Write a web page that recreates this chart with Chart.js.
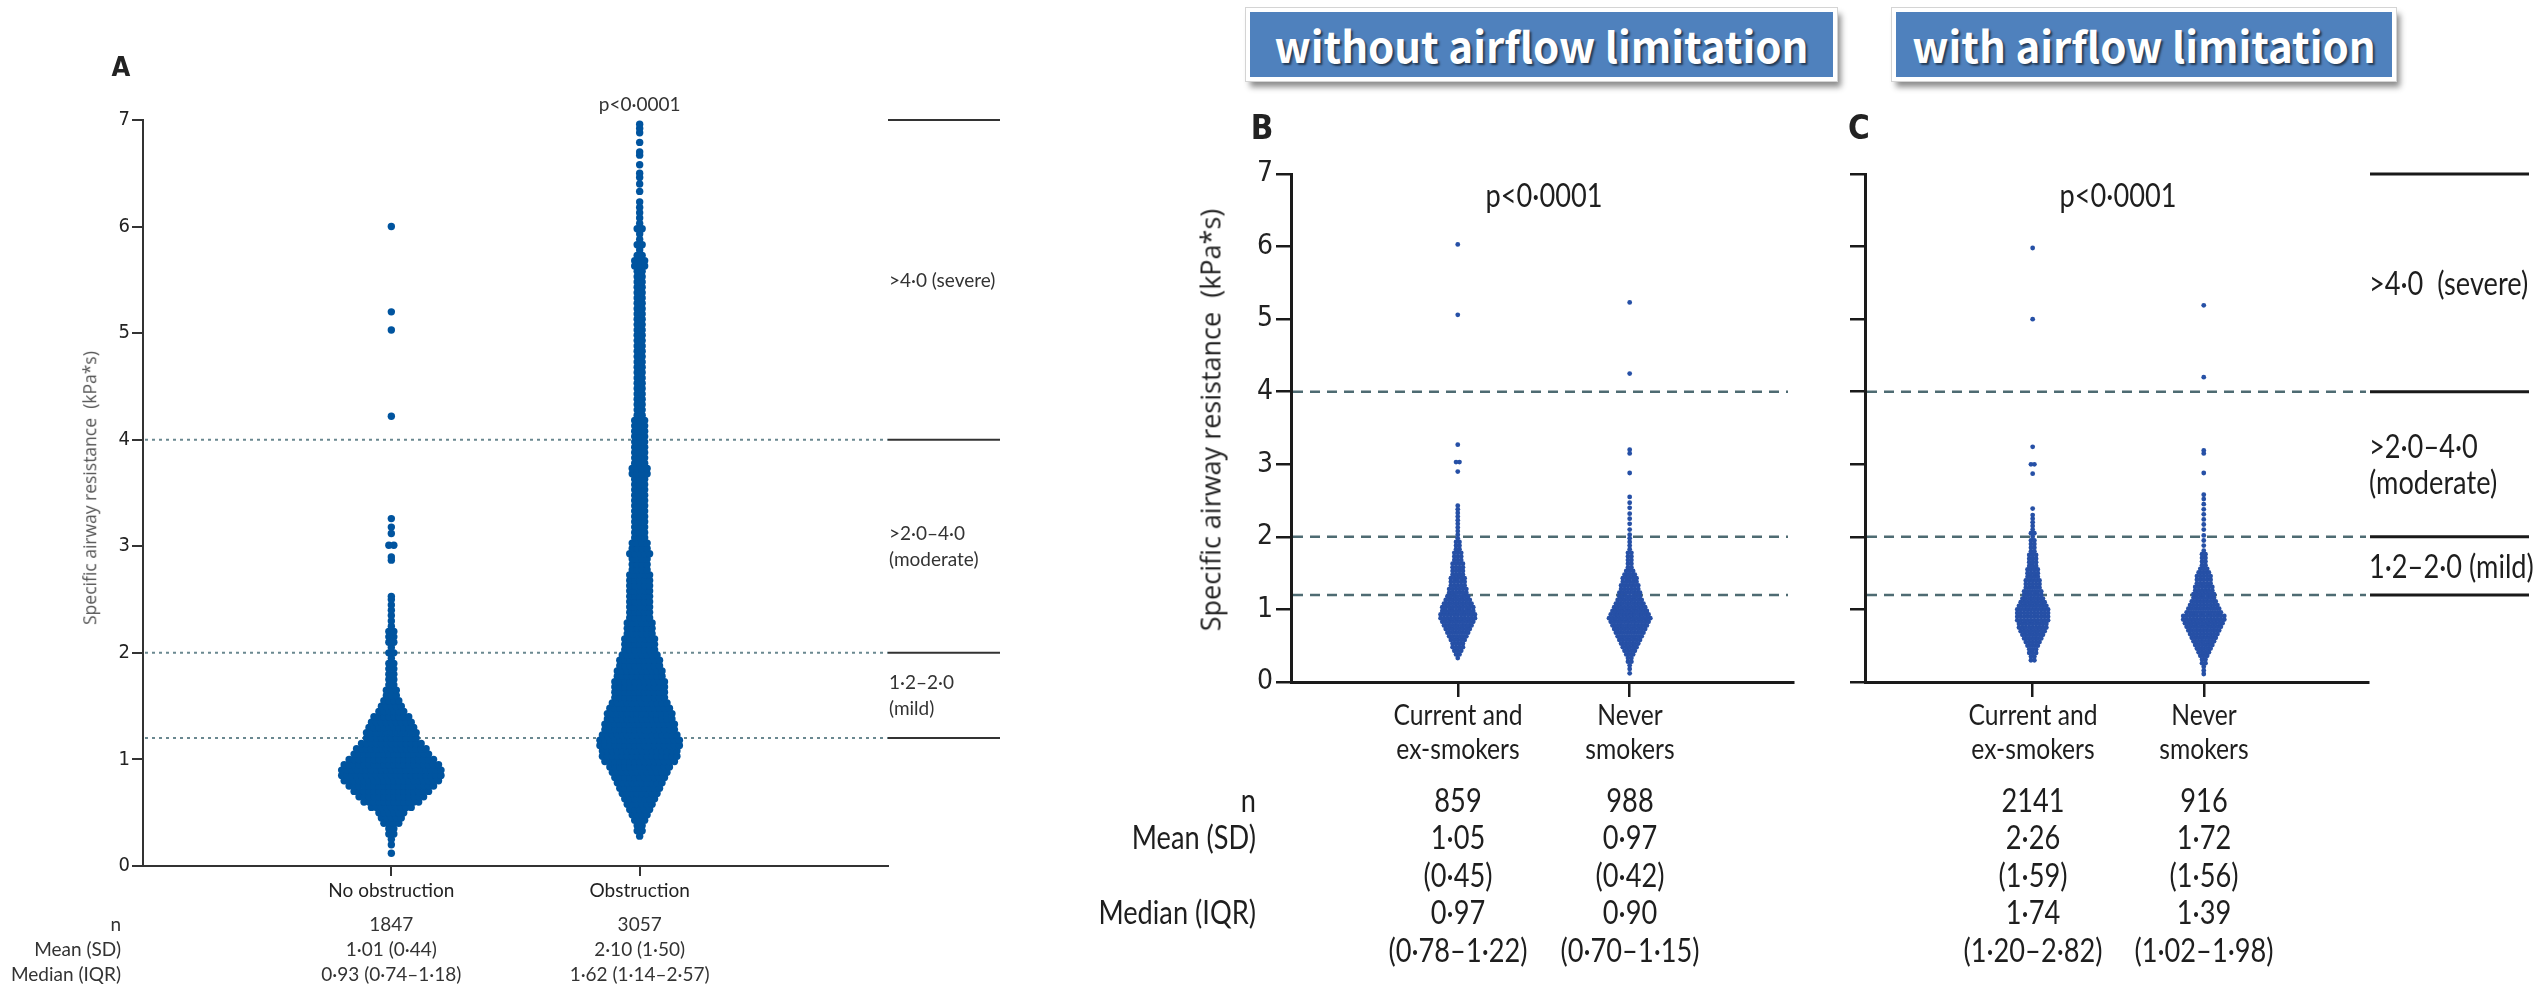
<!DOCTYPE html>
<html>
<head>
<meta charset="utf-8">
<script src="https://cdn.jsdelivr.net/npm/chart.js@4.4.1/dist/chart.umd.min.js"></script>
<style>
    body { margin: 0; background: #fff; }
    #fig { position: relative; width: 2542px; height: 988px; overflow: hidden; background: #fff; }
    #fig canvas { position: absolute; }
    .lbl { position: absolute; white-space: pre; line-height: 1; }
    .fa { font: 19px Lato, sans-serif; color: #333; }
    .fb { font: 32px Lato, sans-serif; color: #1e1e1e; line-height: 1.12; }
    .fc { font: 29px Lato, sans-serif; color: #1e1e1e; line-height: 1.17; }
    .letter { font-family: 'Liberation Sans Narrow', 'DejaVu Sans Condensed', sans-serif; font-weight: bold; color: #222; }
    .ytitle { font-family: 'Open Sans', sans-serif; }
    .box {
        position: absolute; box-sizing: border-box; background: #4f81bd;
        border: 4px solid #fff; outline: 1px solid #d4d4d4;
        box-shadow: 4px 6px 6px rgba(0, 0, 0, 0.45);
        color: #fff; font: bold 42px 'Noto Sans CJK KR', sans-serif;
        display: flex; align-items: center; justify-content: center;
        text-shadow: 2px 2px 2px rgba(0, 0, 0, 0.55); white-space: pre;
    }
</style>
</head>
<body>
<div id="fig">
    <canvas id="chartA" width="1010" height="988" style="left:0px;top:0px"></canvas>
    <canvas id="chartB" width="660" height="700" style="left:1160px;top:100px"></canvas>
    <canvas id="chartC" width="802" height="700" style="left:1740px;top:100px"></canvas>
</div>
<script>
// ---- dados ----
const yTicks = [0, 1, 2, 3, 4, 5, 6, 7];
const thresholds = [1.2, 2, 4];
const sideLines = [1.2, 2, 4, 7];
const bandMids = [5.5, 3, 1.6];

// painel A
const aCategories = ['No obstruction', 'Obstruction'];
const aN = ['1847', '3057'];
const aMean = ['1·01 (0·44)', '2·10 (1·50)'];
const aMedian = ['0·93 (0·74–1·18)', '1·62 (1·14–2·57)'];
const aBandLabels = ['>4·0 (severe)', '>2·0–4·0\n(moderate)', '1·2–2·0\n(mild)'];

const noObsLevels = [0.12, 0.20, 0.25, 0.30, 0.35,
    0.40, 0.45, 0.50, 0.55, 0.60, 0.65, 0.70, 0.75, 0.80, 0.85, 0.90, 0.95, 1.00,
    1.05, 1.10, 1.15, 1.20, 1.25, 1.30, 1.35, 1.40, 1.45, 1.50,
    1.55, 1.60, 1.65, 1.70, 1.75, 1.80, 1.85, 1.90, 1.95, 2.00,
    2.05, 2.10, 2.15, 2.20, 2.25, 2.30, 2.35, 2.40, 2.45, 2.50, 2.53,
    2.87, 2.90, 3.01, 3.12, 3.18, 3.26, 4.22, 5.03, 5.20, 6.00];
const noObsCounts = [1, 1, 1, 2, 2,
    4, 5, 6, 9, 12, 14, 16, 18, 20, 21, 21, 20, 18,
    16, 15, 13, 11, 11, 10, 9, 8, 6, 5,
    4, 3, 3, 2, 2, 2, 2, 2, 1, 2,
    1, 2, 2, 2, 1, 1, 1, 1, 1, 1, 1,
    1, 1, 2, 1, 1, 1, 1, 1, 1, 1];

const obsLevels = [
    0.28, 0.33, 0.38, 0.43, 0.48, 0.53, 0.58, 0.63, 0.68, 0.73,
    0.78, 0.83, 0.88, 0.93, 0.98, 1.03, 1.08, 1.13, 1.18, 1.23,
    1.28, 1.33, 1.38, 1.43, 1.48, 1.53, 1.58, 1.63, 1.68, 1.73,
    1.78, 1.83, 1.88, 1.93, 1.98, 2.03, 2.08, 2.13, 2.18, 2.23,
    2.28, 2.33, 2.38, 2.43, 2.48, 2.53, 2.58, 2.63, 2.68, 2.73,
    2.78, 2.83, 2.88, 2.93, 2.98, 3.03, 3.08, 3.13, 3.18, 3.23,
    3.28, 3.33, 3.38, 3.43, 3.48, 3.53, 3.58, 3.63, 3.68, 3.73,
    3.78, 3.83, 3.88, 3.93, 3.98, 4.03, 4.08, 4.13, 4.18, 4.23,
    4.28, 4.33, 4.38, 4.43, 4.48, 4.53, 4.58, 4.63, 4.68, 4.73,
    4.78, 4.83, 4.88, 4.93, 4.98, 5.03, 5.08, 5.13, 5.18, 5.23,
    5.28, 5.33, 5.38, 5.43, 5.48, 5.53, 5.58, 5.63, 5.68, 5.73,
    5.78, 5.83, 5.88, 5.93, 5.98, 6.03, 6.08, 6.13, 6.18, 6.23,
    6.33, 6.40, 6.46, 6.50, 6.58, 6.67, 6.70, 6.79, 6.88, 6.92, 6.96];
const obsCounts = [
    1, 2, 2, 3, 4, 5, 6, 7, 8, 9,
    10, 11, 12, 13, 15, 16, 16, 17, 17, 16,
    15, 15, 14, 14, 13, 12, 11, 11, 11, 11,
    10, 10, 9, 9, 8, 7, 7, 7, 6, 6,
    6, 5, 5, 5, 5, 5, 5, 5, 5, 5,
    4, 4, 4, 5, 4, 4, 3, 3, 3, 3,
    3, 3, 3, 3, 3, 3, 3, 3, 4, 4,
    3, 3, 3, 3, 3, 3, 3, 3, 3, 2,
    2, 2, 2, 2, 2, 2, 2, 2, 2, 2,
    2, 2, 2, 2, 2, 2, 2, 2, 2, 2,
    2, 2, 2, 2, 2, 2, 2, 3, 3, 2,
    1, 2, 1, 1, 2, 1, 1, 1, 1, 1,
    1, 1, 1, 1, 1, 1, 1, 1, 1, 1, 1];

// painéis B e C
const smokCategories = ['Current and\nex-smokers', 'Never\nsmokers'];
const rowLabels = ['n', 'Mean (SD)', '', 'Median (IQR)', ''];
const bN = ['859', '988'];
const bMean = ['1·05', '0·97'];
const bSD = ['(0·45)', '(0·42)'];
const bMedian = ['0·97', '0·90'];
const bIQR = ['(0·78–1·22)', '(0·70–1·15)'];
const cN = ['2141', '916'];
const cMean = ['2·26', '1·72'];
const cSD = ['(1·59)', '(1·56)'];
const cMedian = ['1·74', '1·39'];
const cIQR = ['(1·20–2·82)', '(1·02–1·98)'];
const cBandLabels = ['>4·0  (severe)', '>2·0–4·0\n(moderate)', '1·2–2·0 (mild)'];

const bCurLevels = [0.33, 0.38, 0.43, 0.48, 0.53, 0.58, 0.63, 0.68, 0.73, 0.78,
    0.83, 0.88, 0.93, 0.98, 1.03, 1.08, 1.13, 1.18, 1.23, 1.28,
    1.33, 1.38, 1.43, 1.48, 1.53, 1.58, 1.63, 1.68, 1.73, 1.78,
    1.83, 1.88, 1.93, 1.98, 2.03, 2.08, 2.13, 2.18, 2.23, 2.28,
    2.33, 2.38, 2.43, 2.90, 3.03, 3.27, 5.06, 6.03];
const bCurCounts = [1, 2, 3, 4, 4, 5, 6, 7, 8, 9,
    10, 11, 11, 10, 10, 9, 8, 7, 6, 6,
    5, 5, 5, 4, 4, 4, 4, 3, 3, 3,
    2, 2, 2, 1, 1, 1, 1, 1, 1, 1,
    1, 1, 1, 1, 2, 1, 1, 1];

const bNevLevels = [0.12, 0.18, 0.23, 0.28, 0.33, 0.38, 0.43, 0.48, 0.53, 0.58,
    0.63, 0.68, 0.73, 0.78, 0.83, 0.88, 0.93, 0.98, 1.03, 1.08,
    1.13, 1.18, 1.23, 1.28, 1.33, 1.38, 1.43, 1.48, 1.53, 1.58,
    1.63, 1.68, 1.73, 1.78, 1.83, 1.88, 1.93, 1.98, 2.03, 2.10,
    2.18, 2.25, 2.32, 2.40, 2.47, 2.55, 2.88, 3.15, 3.20, 4.25, 5.23];
const bNevCounts = [1, 1, 1, 2, 2, 3, 4, 5, 6, 7,
    8, 9, 10, 11, 12, 13, 12, 11, 10, 9,
    8, 7, 7, 6, 6, 5, 5, 4, 3, 2,
    2, 2, 2, 2, 1, 1, 1, 1, 1, 1,
    1, 1, 1, 1, 1, 1, 1, 1, 1, 1, 1];

const cCurLevels = [0.30, 0.35, 0.40, 0.45, 0.50, 0.55, 0.60, 0.65, 0.70, 0.75,
    0.80, 0.85, 0.90, 0.95, 1.00, 1.05, 1.10, 1.15, 1.20, 1.25,
    1.30, 1.35, 1.40, 1.45, 1.50, 1.55, 1.60, 1.65, 1.70, 1.75,
    1.80, 1.85, 1.90, 1.95, 2.00, 2.05, 2.10, 2.15, 2.20, 2.25,
    2.30, 2.39, 2.87, 3.00, 3.24, 5.00, 5.98];
const cCurCounts = [2, 2, 3, 3, 4, 5, 6, 7, 8, 9,
    9, 10, 10, 10, 10, 9, 8, 7, 6, 6,
    5, 5, 5, 4, 4, 4, 3, 3, 3, 3,
    2, 2, 2, 2, 1, 2, 1, 1, 1, 1,
    1, 1, 1, 2, 1, 1, 1];

const cNevLevels = [0.11, 0.16, 0.21, 0.26, 0.31, 0.36, 0.41, 0.46, 0.51, 0.56,
    0.61, 0.66, 0.71, 0.76, 0.81, 0.86, 0.91, 0.96, 1.01, 1.06,
    1.11, 1.16, 1.21, 1.26, 1.31, 1.36, 1.41, 1.46, 1.51, 1.56,
    1.61, 1.66, 1.71, 1.76, 1.81, 1.88, 1.95, 2.02, 2.10, 2.17,
    2.24, 2.31, 2.38, 2.45, 2.52, 2.58, 2.88, 3.15, 3.19, 4.20, 5.19];
const cNevCounts = [1, 1, 1, 2, 2, 3, 4, 5, 6, 7,
    8, 9, 10, 11, 12, 13, 13, 11, 10, 9,
    8, 7, 7, 6, 6, 5, 5, 5, 4, 3,
    2, 2, 2, 2, 1, 1, 1, 1, 1, 1,
    1, 1, 1, 1, 1, 1, 1, 1, 1, 1, 1];

// ---- montagem ----
const fig = document.getElementById('fig');

// espalha os pontos de cada nível lado a lado (beeswarm)
function swarm(levels, counts, cat, step) {
    const pts = [];
    levels.forEach((v, i) => {
        const n = counts[i];
        for (let j = 0; j < n; j++) {
            pts.push({ x: cat + (j - (n - 1) / 2) * step, y: v });
        }
    });
    return pts;
}

const refLines = {
    id: 'refLines',
    beforeDatasetsDraw(chart, args, opts) {
        const { ctx, chartArea: ca, scales: { y } } = chart;
        ctx.save();
        ctx.strokeStyle = opts.color;
        ctx.lineWidth = opts.width;
        ctx.setLineDash(opts.dash);
        thresholds.forEach(v => {
            const py = y.getPixelForValue(v);
            ctx.beginPath();
            ctx.moveTo(ca.left + 2, py);
            ctx.lineTo(ca.right - opts.shorten, py);
            ctx.stroke();
        });
        if (opts.side) {
            ctx.setLineDash([]);
            ctx.strokeStyle = opts.sideColor;
            ctx.lineWidth = opts.sideWidth;
            sideLines.forEach(v => {
                const py = y.getPixelForValue(v);
                ctx.beginPath();
                ctx.moveTo(ca.right + opts.sideFrom, py);
                ctx.lineTo(ca.right + opts.sideTo, py);
                ctx.stroke();
            });
        }
        ctx.restore();
    }
};

function makeChart(id, cfg) {
    const axisColor = cfg.axisColor;
    return new Chart(document.getElementById(id), {
        type: 'scatter',
        data: { datasets: cfg.datasets },
        options: {
            responsive: false,
            animation: false,
            events: [],
            layout: { padding: cfg.padding },
            plugins: { legend: { display: false }, tooltip: { enabled: false }, refLines: cfg.lines },
            elements: { point: { radius: cfg.radius, borderWidth: 0 } },
            scales: {
                x: {
                    type: 'linear', min: cfg.xMin, max: cfg.xMax,
                    afterBuildTicks: ax => { ax.ticks = [{ value: 1 }, { value: 2 }]; },
                    afterFit: ax => { ax.height = cfg.xHeight; },
                    ticks: {
                        display: cfg.xLabels,
                        callback: (v, i) => cfg.categories ? cfg.categories[i] : '',
                        font: cfg.xFont, color: '#222', padding: cfg.xPad,
                        maxRotation: 0, autoSkip: false
                    },
                    grid: { display: true, drawOnChartArea: false, drawTicks: true, tickLength: cfg.xTick, color: axisColor, lineWidth: cfg.tickWidth },
                    border: { display: true, color: axisColor, width: cfg.axisWidth }
                },
                y: {
                    type: 'linear', min: 0, max: 7,
                    afterBuildTicks: ax => { ax.ticks = yTicks.map(v => ({ value: v })); },
                    afterFit: ax => { ax.width = 60; },
                    ticks: { display: cfg.yLabels, font: cfg.yFont, color: '#222', padding: cfg.yPad },
                    grid: { display: true, drawOnChartArea: false, drawTicks: true, tickLength: cfg.yTick, color: axisColor, lineWidth: cfg.tickWidth },
                    border: { display: true, color: axisColor, width: cfg.axisWidth }
                }
            }
        },
        plugins: [refLines]
    });
}

const narrow = 'Liberation Sans Narrow, DejaVu Sans Condensed, sans-serif';
const blueA = '#00549f';
const blueB = '#2650a6';

const chartA = makeChart('chartA', {
    datasets: [
        { data: swarm(noObsLevels, noObsCounts, 1, 0.02), backgroundColor: blueA },
        { data: swarm(obsLevels, obsCounts, 2, 0.02), backgroundColor: blueA }
    ],
    padding: { left: 83, right: 122, top: 120, bottom: 62 },
    xMin: 0, xMax: 3, xHeight: 60, xPad: 3, xTick: 10, yTick: 11, yPad: 2,
    categories: aCategories, xLabels: true,
    xFont: { family: 'Lato', size: 19, lineHeight: 1.2 },
    yFont: { family: narrow, size: 20 }, yLabels: true,
    radius: 3.7, axisColor: '#333', axisWidth: 2, tickWidth: 2,
    lines: { color: '#6a8890', width: 2, dash: [3, 4], shorten: 0, side: true, sideColor: '#333', sideWidth: 2, sideFrom: 0, sideTo: 112 }
});

const chartB = makeChart('chartB', {
    datasets: [
        { data: swarm(bCurLevels, bCurCounts, 1, 0.02), backgroundColor: blueB },
        { data: swarm(bNevLevels, bNevCounts, 2, 0.02), backgroundColor: blueB }
    ],
    padding: { left: 71, right: 27, top: 74, bottom: 28 },
    xMin: 0.03, xMax: 2.95, xHeight: 90, xPad: 0, xTick: 15, yTick: 15, yPad: 3,
    categories: null, xLabels: false,
    xFont: { family: 'Lato', size: 29 },
    yFont: { family: narrow, size: 28 }, yLabels: true,
    radius: 2.4, axisColor: '#1a1a1a', axisWidth: 3, tickWidth: 2.5,
    lines: { color: '#4e6b72', width: 2.5, dash: [10, 7], shorten: 5, side: false }
});

const chartC = makeChart('chartC', {
    datasets: [
        { data: swarm(cCurLevels, cCurCounts, 1, 0.02), backgroundColor: blueB },
        { data: swarm(cNevLevels, cNevCounts, 2, 0.02), backgroundColor: blueB }
    ],
    padding: { left: 65, right: 174, top: 74, bottom: 28 },
    xMin: 0.02, xMax: 2.96, xHeight: 90, xPad: 0, xTick: 15, yTick: 15, yPad: 3,
    categories: null, xLabels: false,
    xFont: { family: 'Lato', size: 29 },
    yFont: { family: narrow, size: 28 }, yLabels: false,
    radius: 2.4, axisColor: '#1a1a1a', axisWidth: 3, tickWidth: 2.5,
    lines: { color: '#4e6b72', width: 2.5, dash: [10, 7], shorten: 2, side: true, sideColor: '#1a1a1a', sideWidth: 3, sideFrom: 2, sideTo: 161 }
});

// ---- textos em HTML ----
function addText(txt, x, y, cls, align, extra) {
    const d = document.createElement('div');
    d.className = 'lbl ' + cls;
    d.textContent = txt;
    d.style.left = x + 'px';
    d.style.top = y + 'px';
    const tx = align === 'center' ? '-50%' : align === 'right' ? '-100%' : '0';
    d.style.transformOrigin = align === 'right' ? '100% 50%' : align === 'left' ? '0 50%' : '50% 50%';
    d.style.transform = `translate(${tx},-50%)` + (extra || '');
    d.style.textAlign = align;
    fig.appendChild(d);
    return d;
}
// texto estreito dos painéis B e C
function addNarrow(txt, x, y, cls, align) {
    return addText(txt, x, y, cls, align, ' scaleX(0.85)');
}

function catX(chart, left, v) {
    return left + chart.scales.x.getPixelForValue(v);
}
function valY(chart, top, v) {
    return top + chart.scales.y.getPixelForValue(v);
}

// painel A
addText('A', 121, 66, 'letter', 'center').style.fontSize = '27px';
addText('p<0·0001', catX(chartA, 0, 2), 103, 'fa', 'center');
const ta = addText('Specific airway resistance  (kPa*s)', 90, 488, 'ytitle', 'center', ' rotate(-90deg)');
ta.style.fontSize = '17.5px';
ta.style.color = '#555';
aBandLabels.forEach((t, i) => addText(t, 889, valY(chartA, 0, bandMids[i]), 'fa', 'left').style.lineHeight = '1.35');
[['n', aN, 923], ['Mean (SD)', aMean, 948], ['Median (IQR)', aMedian, 973]].forEach(([lab, vals, y]) => {
    addText(lab, 121, y, 'fa', 'right');
    vals.forEach((v, i) => addText(v, catX(chartA, 0, i + 1), y, 'fa', 'center'));
});

// painéis B e C
const rowsY = [800, 837, 875, 912, 950];
function tableBC(chart, left, vals) {
    smokCategories.forEach((t, i) => addNarrow(t, catX(chart, left, i + 1), 731, 'fc', 'center'));
    vals.forEach((col, r) => col.forEach((v, i) => addNarrow(v, catX(chart, left, i + 1), rowsY[r], 'fb', 'center')));
}
rowLabels.forEach((t, r) => { if (t) addNarrow(t, 1256, rowsY[r], 'fb', 'right'); });
tableBC(chartB, 1160, [bN, bMean, bSD, bMedian, bIQR]);
tableBC(chartC, 1740, [cN, cMean, cSD, cMedian, cIQR]);

addText('B', 1262, 127, 'letter', 'center').style.fontSize = '33px';
addText('C', 1859, 127, 'letter', 'center').style.fontSize = '33px';
addNarrow('p<0·0001', catX(chartB, 1160, 1.5), 195, 'fb', 'center');
addNarrow('p<0·0001', catX(chartC, 1740, 1.5), 195, 'fb', 'center');
const tb = addText('Specific airway resistance  (kPa*s)', 1210, 420, 'ytitle', 'center', ' rotate(-90deg)');
tb.style.fontSize = '27px';
tb.style.color = '#222';
cBandLabels.forEach((t, i) => addNarrow(t, 2369, valY(chartC, 100, bandMids[i]), 'fb', 'left'));

// caixas do título
function addBox(txt, x, y, w, h) {
    const d = document.createElement('div');
    d.className = 'box';
    d.textContent = txt;
    Object.assign(d.style, { left: x + 'px', top: y + 'px', width: w + 'px', height: h + 'px' });
    fig.appendChild(d);
}
addBox('without airflow limitation', 1246, 8, 591, 73);
addBox('with airflow limitation', 1892, 8, 504, 73);
</script>
</body>
</html>
